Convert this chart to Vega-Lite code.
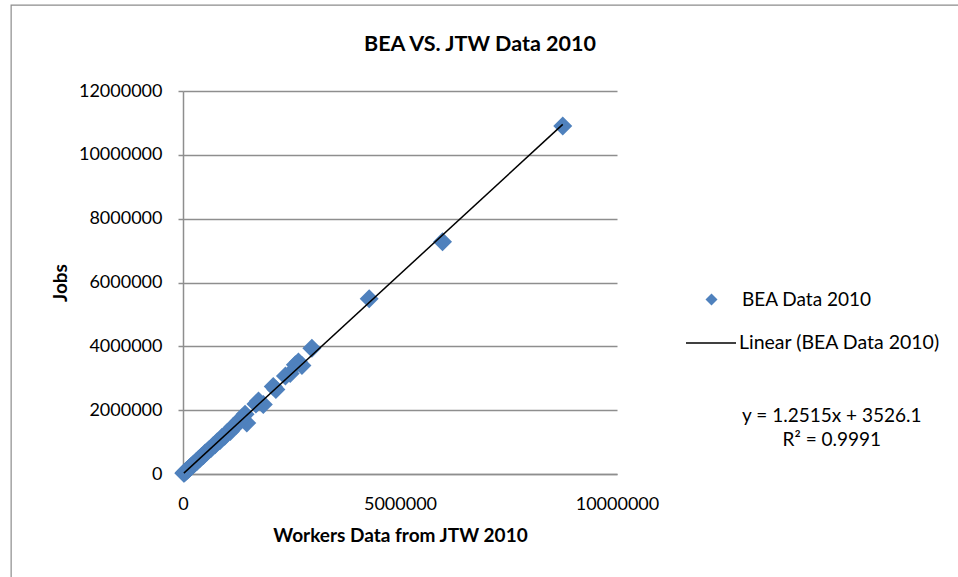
{
  "$schema": "https://vega.github.io/schema/vega-lite/v6.json",
  "width": 434,
  "height": 383,
  "autosize": {"type": "none"},
  "padding": {"left": 183, "top": 91, "right": 341, "bottom": 103},
  "background": "white",
  "config": {
    "view": {"stroke": null},
    "font": "Lato",
    "axis": {"labelFont": "Lato", "titleFont": "Lato", "labelColor": "#000000", "titleColor": "#000000"},
    "legend": {"labelFont": "Lato", "labelColor": "#000000", "padding": 0, "labelLimit": 400}
  },
  "title": {
    "text": "BEA VS. JTW Data 2010",
    "font": "Lato",
    "fontSize": 21.5,
    "fontWeight": "bold",
    "color": "#000000",
    "anchor": "middle",
    "frame": "group",
    "baseline": "bottom",
    "dx": 80,
    "offset": -73
  },
  "datasets": {
    "counts": [
      {"workers": 8750000, "jobs": 10900000},
      {"workers": 5980000, "jobs": 7280000},
      {"workers": 4290000, "jobs": 5490000},
      {"workers": 2970000, "jobs": 3940000},
      {"workers": 2660000, "jobs": 3510000},
      {"workers": 2590000, "jobs": 3420000},
      {"workers": 2740000, "jobs": 3400000},
      {"workers": 2470000, "jobs": 3150000},
      {"workers": 2360000, "jobs": 3070000},
      {"workers": 2080000, "jobs": 2740000},
      {"workers": 2140000, "jobs": 2650000},
      {"workers": 1740000, "jobs": 2290000},
      {"workers": 1850000, "jobs": 2180000},
      {"workers": 1680000, "jobs": 2190000},
      {"workers": 1470000, "jobs": 1600000},
      {"workers": 1430000, "jobs": 1870000},
      {"workers": 1360000, "jobs": 1760000},
      {"workers": 1290000, "jobs": 1660000},
      {"workers": 1220000, "jobs": 1520000},
      {"workers": 1150000, "jobs": 1480000},
      {"workers": 1090000, "jobs": 1330000},
      {"workers": 1020000, "jobs": 1300000},
      {"workers": 960000, "jobs": 1180000},
      {"workers": 900000, "jobs": 1150000},
      {"workers": 850000, "jobs": 1040000},
      {"workers": 790000, "jobs": 1010000},
      {"workers": 740000, "jobs": 920000},
      {"workers": 690000, "jobs": 880000},
      {"workers": 640000, "jobs": 790000},
      {"workers": 590000, "jobs": 750000},
      {"workers": 550000, "jobs": 690000},
      {"workers": 510000, "jobs": 660000},
      {"workers": 470000, "jobs": 580000},
      {"workers": 430000, "jobs": 550000},
      {"workers": 395000, "jobs": 490000},
      {"workers": 360000, "jobs": 460000},
      {"workers": 325000, "jobs": 400000},
      {"workers": 295000, "jobs": 375000},
      {"workers": 265000, "jobs": 330000},
      {"workers": 235000, "jobs": 300000},
      {"workers": 210000, "jobs": 260000},
      {"workers": 185000, "jobs": 235000},
      {"workers": 160000, "jobs": 195000},
      {"workers": 140000, "jobs": 178000},
      {"workers": 120000, "jobs": 148000},
      {"workers": 100000, "jobs": 127000},
      {"workers": 82000, "jobs": 101000},
      {"workers": 66000, "jobs": 84000},
      {"workers": 50000, "jobs": 61000},
      {"workers": 36000, "jobs": 47000},
      {"workers": 24000, "jobs": 29000},
      {"workers": 20000, "jobs": 24000}
    ],
    "trend": [
      {"workers": 20000, "jobs": 28556.1},
      {"workers": 8750000, "jobs": 10954151.1}
    ]
  },
  "layer": [
    {
      "description": "chart area outline",
      "data": {"values": [{}]},
      "mark": {"type": "rect", "fill": null, "stroke": "#8C8C8C", "strokeWidth": 1.2, "clip": false},
      "encoding": {
        "x": {"datum": -3960000, "type": "quantitative", "scale": {"domain": [0, 10000000], "nice": false}},
        "x2": {"datum": 25000000},
        "y": {"datum": 14690000, "type": "quantitative", "scale": {"domain": [0, 12000000], "nice": false}},
        "y2": {"datum": -6000000}
      }
    },
    {
      "data": {"name": "counts"},
      "mark": {"type": "point", "shape": "diamond", "filled": true, "size": 361, "opacity": 1},
      "encoding": {
        "x": {
          "field": "workers",
          "type": "quantitative",
          "scale": {"domain": [0, 10000000], "nice": false},
          "axis": {
            "values": [0, 5000000, 10000000],
            "format": "d",
            "grid": false,
            "ticks": false,
            "domain": true,
            "domainColor": "#8E8E8E",
            "domainWidth": 1.5,
            "labelFontSize": 18,
            "labelPadding": 21,
            "labelFlush": false,
            "labelOverlap": false,
            "title": "Workers Data from JTW 2010",
            "titleFontSize": 19,
            "titleFontWeight": "bold",
            "titlePadding": 13
          }
        },
        "y": {
          "field": "jobs",
          "type": "quantitative",
          "scale": {"domain": [0, 12000000], "nice": false},
          "axis": {
            "values": [0, 2000000, 4000000, 6000000, 8000000, 10000000, 12000000],
            "format": "d",
            "grid": true,
            "gridColor": "#8E8E8E",
            "gridWidth": 1.5,
            "domain": true,
            "domainColor": "#8E8E8E",
            "domainWidth": 1.5,
            "ticks": true,
            "tickSize": 5,
            "tickColor": "#8E8E8E",
            "tickWidth": 1.5,
            "labelFontSize": 18,
            "labelPadding": 16,
            "labelFlush": false,
            "labelOverlap": false,
            "title": "Jobs",
            "titleFontSize": 19,
            "titleFontWeight": "bold",
            "titlePadding": 8
          }
        },
        "fill": {
          "datum": "BEA Data 2010",
          "scale": {"range": ["#4F81BD"]},
          "legend": {
            "title": null,
            "orient": "none",
            "legendX": 519,
            "legendY": 199,
            "symbolType": "diamond",
            "symbolSize": 144,
            "symbolStrokeWidth": 0,
            "labelFontSize": 19,
            "labelOffset": 21
          }
        }
      }
    },
    {
      "data": {"name": "trend"},
      "mark": {"type": "line", "strokeWidth": 1.5},
      "encoding": {
        "x": {"field": "workers", "type": "quantitative"},
        "y": {"field": "jobs", "type": "quantitative"},
        "stroke": {
          "datum": "Linear (BEA Data 2010)",
          "scale": {"range": ["#000000"]},
          "legend": {
            "title": null,
            "orient": "none",
            "legendX": 502,
            "legendY": 226,
            "symbolType": "stroke",
            "symbolSize": 2500,
            "symbolStrokeWidth": 1.5,
            "labelFontSize": 19.5,
            "labelOffset": 2
          }
        }
      }
    },
    {
      "description": "trendline equation",
      "data": {"values": [{}]},
      "mark": {
        "type": "text",
        "text": ["y = 1.2515x + 3526.1", "R² = 0.9991"],
        "font": "Lato",
        "fontSize": 19,
        "color": "#000000",
        "align": "center",
        "baseline": "middle",
        "lineHeight": 24,
        "clip": false
      },
      "encoding": {
        "x": {"datum": 14950000, "type": "quantitative"},
        "y": {"datum": 1810000, "type": "quantitative"}
      }
    }
  ]
}
